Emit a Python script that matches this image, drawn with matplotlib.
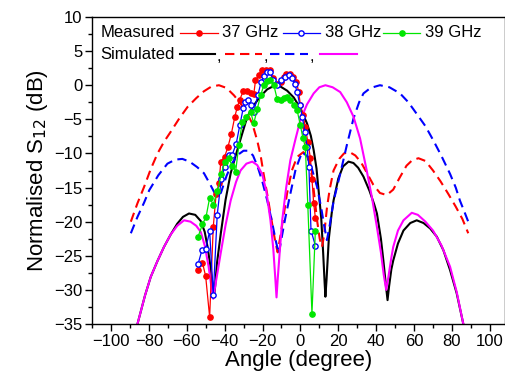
import matplotlib.pyplot as plt
from matplotlib.lines import Line2D

plt.rcParams['font.family'] = ['Liberation Sans', 'DejaVu Sans']

# simulated patterns (angle in degree, level in dB)
sim_black_x = [-88, -86, -82, -79, -75.5, -72, -68.5, -65, -62, -58.8, -55.5, -52.6, -50.5, -49, -47.5,
               -46.3, -45.6, -45, -44, -42, -39.5, -36.8, -33.3, -30.5, -28, -24.5, -21, -17.5, -14,
               -10.5, -7, -3.5, 0, 3.5, 5.5, 7, 8.5, 9.6, 11, 12, 12.8, 13.2, 13.8, 15, 16.5, 17.5, 20,
               22.5, 25.4, 28, 30.5, 33.3, 36.5, 39, 40.4, 42.5, 43.8, 45.2, 46, 46.8, 48, 49, 51.5,
               54.4, 58, 61.4, 65, 68.5, 72, 75.5, 79, 82.5, 86, 88]
sim_black_y = [-38, -35, -30.8, -28.1, -25.8, -23.7, -21.9, -20.3, -19.3, -18.8, -19.0, -19.9, -21.5,
               -23.7, -26.5, -29.5, -31, -29.5, -26, -21.7, -16.8, -12.9, -9.5, -6.9, -4.6, -2.9, -1.6,
               -0.6, -0.1, -0.2, -0.8, -1.8, -3.4, -5.6, -7.4, -9.5, -12.2, -15.4, -19.5, -24.5, -29,
               -31, -28.5, -22.5, -18.8, -16.9, -13.7, -11.9, -11.2, -11.4, -12.1, -13.4, -15.5, -17.5,
               -18.8, -22.5, -25.7, -29.5, -31.5, -29.5, -27, -25.7, -23.2, -21.3, -20.2, -19.8, -20.2,
               -21, -22.2, -24.2, -27.1, -30.5, -35, -38]

sim_red_x = [-89.5, -86, -82.5, -79, -75.4, -72, -68.4, -64, -59.6, -55, -51, -47, -43, -39, -35, -31,
             -28, -25.4, -22.8, -21, -19.3, -17.5, -15.8, -14.2, -13.2, -12, -10.5, -8.5, -7, -4.5,
             -1.7, 1.6, 4.5, 6.5, 8.8, 10.2, 11.4, 12.5, 14, 15.5, 17.5, 20.5, 23, 26, 29, 32, 35,
             38.5, 42, 45.6, 49, 52.5, 56, 59, 62.3, 66, 70, 74, 78, 82, 85.5, 88.6]
sim_red_y = [-20.0, -17.3, -14.9, -12.3, -10.0, -8.3, -6.8, -4.9, -3.2, -1.9, -0.9, -0.2, 0, -0.4,
             -1.5, -2.9, -4.2, -5.6, -8.1, -10.3, -13.2, -16.0, -18.8, -21.5, -23, -24.5, -22, -18.5,
             -15.8, -12.5, -10.5, -9.8, -11, -14, -19.8, -22.5, -23.7, -22, -18, -15.2, -12.5, -10.8,
             -10, -9.8, -10.3, -11.3, -12.8, -14.6, -15.8, -16.1, -15.3, -13.5, -11.8, -11, -10.7,
             -11.1, -12.5, -14.1, -15.9, -17.8, -19.6, -21.7]

sim_blue_x = [-89.5, -86, -82.5, -79.8, -75, -70.2, -66, -62.3, -58.5, -54.5, -50.9, -47.5, -44.7, -42,
              -39, -36, -33, -30, -27.5, -25, -22.5, -20, -17.5, -15, -13, -11.4, -10, -8, -5.3, -2.5,
              0.9, 3.5, 6, 8.8, 11, 12.5, 14, 15.5, 17.5, 21, 24.5, 28, 31, 33.3, 37, 42, 47, 52.6, 57,
              61.4, 66, 70.2, 74.5, 79, 82, 84.2, 86.5, 88.6]
sim_blue_y = [-21.7, -19.3, -17.2, -15.4, -13.2, -11.5, -10.9, -10.8, -11.2, -12, -12.9, -14.6, -16.1,
              -15.8, -13.3, -11.4, -10.2, -9.6, -9.6, -10.3, -12, -14.2, -16.9, -20, -22.8, -24.7,
              -22.5, -19.5, -15.9, -12.3, -9.8, -10.4, -12.2, -14.9, -18, -20.5, -22.7, -20.5, -17,
              -13, -8.8, -4.9, -2.5, -1.2, -0.4, 0, -0.3, -1.2, -2.5, -4.2, -6, -8.1, -10.4, -13, -15,
              -16.9, -18.5, -20]

sim_mag_x = [-88, -86, -82, -79, -75.5, -72, -68.5, -65, -61.4, -58, -55, -52.6, -50.5, -48.5, -47, -46,
             -45, -43.5, -42, -39.5, -36.8, -34, -31.6, -28.5, -25.4, -22.8, -20.2, -18, -15.8, -14.3,
             -13.2, -12.6, -12, -10.8, -9.6, -7.5, -5.3, -2.5, 0, 3.5, 7, 10, 13.2, 17, 21, 24.5, 28,
             31.5, 35, 37.8, 40.4, 42.5, 44, 45.3, 46.5, 48, 49, 51.5, 54.4, 58.8, 62, 66, 70, 74.5, 79,
             82.5, 86, 88]
sim_mag_y = [-38, -35, -30.8, -28.1, -25.8, -23.7, -21.9, -20.6, -19.8, -20.0, -20.6, -21.5, -23.5, -26.5,
             -29.5, -31.3, -29.5, -27, -24.5, -20.5, -16.9, -14.2, -12.5, -11.5, -11.2, -11.7, -13,
             -15.5, -19.8, -24, -28.5, -31.1, -28.5, -24, -19.8, -15, -11, -7.8, -5.1, -2.8, -1.2,
             -0.3, 0, -0.3, -1.0, -2.5, -4.6, -7.8, -12.5, -16.5, -20.8, -24.5, -27.8, -30, -28, -25.3,
             -23.7, -21.3, -19.8, -18.7, -19.0, -20.0, -21.3, -23.5, -26.6, -30.3, -35, -38]

# measured
meas37_x = [-54, -51.7, -50, -47.9, -46, -44.5, -43, -42, -40, -38.2, -36.5, -34.6, -33.3, -32, -30.2,
            -28, -26.3, -24.6, -23.7, -22, -20.2, -17.9, -16.1, -14.4, -12.3, -10.5, -8.8, -7.4, -5.6,
            -3.8, -2.1, -0.9, 0, 1.4, 2.6, 3.9, 5.3, 6.1, 7.0, 7.9]
meas37_y = [-27.1, -26, -28, -34, -20.8, -16, -14.4, -11.2, -10.5, -9, -7.2, -4.6, -3.2, -2.1, -0.9,
            -0.9, -1.2, -1.3, 0.7, 1.5, 2.3, 2.3, 2.2, 1.0, 0.2, 0.5, 1.2, 1.6, 1.7, 1.2, 0.5, -1.0,
            -2.9, -4.4, -6.1, -8.3, -10.7, -13.7, -17.3, -19.4]

meas38_x = [-54, -52, -50, -47.9, -46, -43.9, -41.8, -40, -37.7, -36, -33.9, -32, -30.2, -29, -27.5,
            -26.3, -24.6, -22.5, -20.7, -19.3, -17.5, -15.8, -14.4, -12.3, -10, -8.3, -6.1, -4.4, -3,
            -1.7, -0.3, 1, 2.3, 3.5, 4.5, 5.6, 7.9]
meas38_y = [-26.2, -24.2, -24, -21.4, -30.8, -19, -13.8, -12, -10.3, -10.2, -8.6, -5.9, -3.4, -2.4,
            -2.2, -2.9, -3.9, -1.5, 0.5, 1.3, 1.9, 1.9, 0.7, 0, 0.8, 1.2, 1.5, 1.0, 0.2, -1.0, -2.9,
            -4.6, -6.8, -9.0, -12, -21.3, -23.5]

meas39_x = [-54, -51.7, -49.8, -47.9, -46, -43.8, -41.7, -40, -37.9, -36, -34.2, -32.5, -30.7, -28.5,
            -26.3, -24.6, -22.8, -21, -19.3, -17.5, -15.8, -14, -12.3, -10.5, -8.8, -7, -5.3, -3.5,
            -1.7, 0, 1.4, 2.6, 3.9, 6.1, 7.9]
meas39_y = [-22.2, -20.4, -19.3, -16.5, -17.5, -15.5, -13, -11.2, -10.7, -11.8, -12.7, -8.8, -5.4, -4.6,
            -3.9, -5.6, -3.5, -1.5, 0, 0.6, 0.7, 0, -2, -2.1, -1.9, -1.7, -2.2, -2.9, -3.7, -5.9,
            -7.8, -9.0, -17.5, -33.5, -21.3]

fig = plt.figure(figsize=(5.06, 3.83), dpi=100)
ax = fig.add_axes([92 / 506, 59 / 383, 413 / 506, 307 / 383])

lw = 1.5
dash = (0, (4.5, 2.7))
ax.plot(sim_black_x, sim_black_y, color='black', lw=lw)
ax.plot(sim_red_x, sim_red_y, color='#ff0000', lw=lw, ls=dash)
ax.plot(sim_blue_x, sim_blue_y, color='#0000ff', lw=lw, ls=dash)
ax.plot(sim_mag_x, sim_mag_y, color='#ff00ff', lw=lw)

ms = 3.8
green = '#00e600'
ax.plot(meas37_x, meas37_y, color='#ff0000', lw=0.9, marker='o', ms=ms)
ax.plot(meas38_x, meas38_y, color='#0000ff', lw=0.9, marker='o', ms=ms, mfc='white', mew=1)
ax.plot(meas39_x, meas39_y, color=green, lw=0.9, marker='o', ms=ms)

ax.set_xlim(-110, 108)
ax.set_ylim(-35, 10)
ax.set_xticks(range(-100, 101, 20))
ax.set_xticks(range(-110, 101, 10), minor=True)
ax.set_yticks(range(-35, 11, 5))
ax.set_yticks([v / 2 for v in range(-70, 21, 5)], minor=True)
ax.tick_params(which='major', direction='out', length=5, width=1, labelsize=12, pad=2)
ax.tick_params(which='minor', direction='out', length=3, width=1)
for s in ax.spines.values():
    s.set_linewidth(1)

ax.set_xlabel('Angle (degree)', fontsize=16, labelpad=1)
ax.set_ylabel('Normalised S$_{12}$ (dB)', fontsize=16, labelpad=3)

# custom legend
fs = 12
tr = ax.transAxes
ax.text(0.201, 0.948, 'Measured', transform=tr, ha='right', va='center', fontsize=fs)
ax.text(0.201, 0.879, 'Simulated', transform=tr, ha='right', va='center', fontsize=fs)
keys = [((0.213, 0.305), '#ff0000', '37 GHz', 0.315),
        ((0.462, 0.552), '#0000ff', '38 GHz', 0.564),
        ((0.705, 0.794), green, '39 GHz', 0.806)]
for (x0, x1), c, lab, xt in keys:
    ax.add_line(Line2D([x0, x1], [0.948, 0.948], color=c, lw=0.9, transform=tr))
    mfc = 'white' if lab == '38 GHz' else c
    ax.add_line(Line2D([(x0 + x1) / 2], [0.948], color=c, marker='o', ms=ms, mfc=mfc, transform=tr))
    ax.text(xt, 0.948, lab, transform=tr, ha='left', va='center', fontsize=fs)

ax.add_line(Line2D([0.213, 0.298], [0.879, 0.879], color='black', lw=lw, transform=tr))
ax.add_line(Line2D([0.322, 0.412], [0.879, 0.879], color='#ff0000', lw=lw, ls=dash, transform=tr))
ax.add_line(Line2D([0.431, 0.523], [0.879, 0.879], color='#0000ff', lw=lw, ls=dash, transform=tr))
ax.add_line(Line2D([0.552, 0.642], [0.879, 0.879], color='#ff00ff', lw=lw, transform=tr))
for xc in [0.307, 0.421, 0.533]:
    ax.text(xc, 0.872, ',', transform=tr, ha='center', va='center', fontsize=fs)

fig.savefig('out.png', dpi=100)
